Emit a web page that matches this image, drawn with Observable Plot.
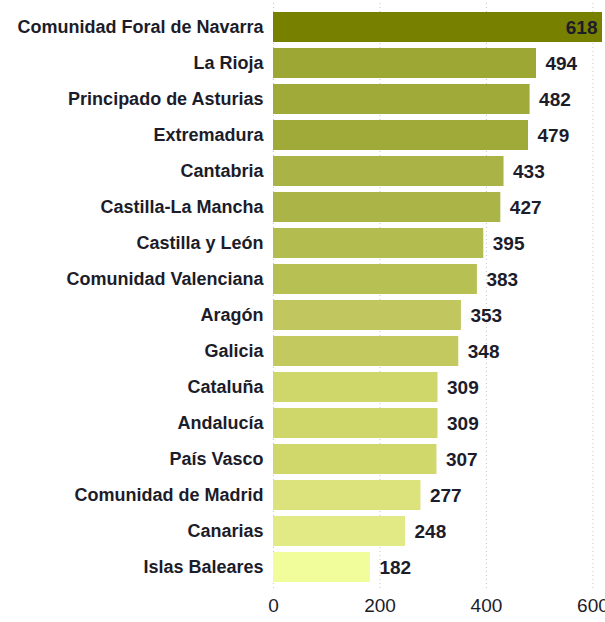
<!DOCTYPE html>
<html>
<head>
<meta charset="utf-8">
<script src="https://cdn.jsdelivr.net/npm/d3@7"></script>
<script src="https://cdn.jsdelivr.net/npm/@observablehq/plot@0.6"></script>
<style>
  body { margin: 0; background: #fff; }
  svg { overflow: hidden; }
</style>
</head>
<body>
<div id="chart"></div>
<script>
const regions = [
  "Comunidad Foral de Navarra", "La Rioja", "Principado de Asturias", "Extremadura",
  "Cantabria", "Castilla-La Mancha", "Castilla y León", "Comunidad Valenciana",
  "Aragón", "Galicia", "Cataluña", "Andalucía", "País Vasco",
  "Comunidad de Madrid", "Canarias", "Islas Baleares"
];
const values = [618, 494, 482, 479, 433, 427, 395, 383, 353, 348, 309, 309, 307, 277, 248, 182];
const xTicks = [0, 200, 400, 600];

const data = regions.map((r, i) => ({region: r, value: values[i]}));

const chart = Plot.plot({
  width: 605,
  height: 622,
  marginLeft: 273,
  marginRight: 3,
  marginTop: 3,
  marginBottom: 31,
  style: {fontFamily: "'Liberation Sans', Arial, sans-serif", fontWeight: "bold", fontSize: "18px", color: "#1c1c2a"},
  x: {domain: [0, 618], label: null},
  y: {domain: regions, padding: 0.17, label: null},
  color: {
    type: "linear",
    domain: [182, 248, 277, 309, 353, 395, 433, 494, 618],
    range: ["#f1fd9a", "#e2ea85", "#dce37d", "#cfd76b", "#c1c75e", "#b3bd4f", "#aab446", "#9ca734", "#788000"]
  },
  marks: [
    Plot.ruleX(xTicks, {stroke: "#c8c8c8", strokeDasharray: "1,3"}),
    Plot.barX(data, {x: "value", y: "region", fill: "value"}),
    Plot.text(data, {filter: d => d.value < 600, x: "value", y: "region", text: d => String(d.value), dx: 9, textAnchor: "start", fill: "#1c1c2a", fontSize: 19}),
    Plot.text(data, {filter: d => d.value >= 600, x: "value", y: "region", text: d => String(d.value), dx: -5, textAnchor: "end", fill: "#1c1c2a", fontSize: 19}),
    Plot.axisY({tickSize: 0, tickPadding: 10, fontSize: 18}),
    Plot.axisX({ticks: xTicks, tickSize: 0, tickPadding: 7, fontSize: 19, fontWeight: "normal"})
  ]
});
document.getElementById("chart").appendChild(chart);
</script>
</body>
</html>
